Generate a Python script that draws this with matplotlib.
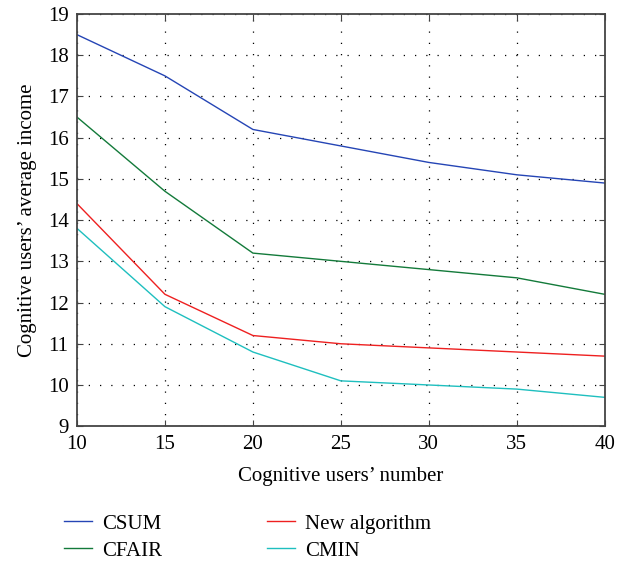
import matplotlib.pyplot as plt

users = [10, 15, 20, 25, 30, 35, 40]
csum = [18.5, 17.5, 16.2, 15.8, 15.4, 15.1, 14.9]
cfair = [16.5, 14.7, 13.2, 13.0, 12.8, 12.6, 12.2]
new_alg = [14.4, 12.2, 11.2, 11.0, 10.9, 10.8, 10.7]
cmin = [13.8, 11.9, 10.8, 10.1, 10.0, 9.9, 9.7]

plt.rcParams["font.family"] = ["Liberation Serif", "DejaVu Serif"]

fig = plt.figure(figsize=(6.26, 5.63), dpi=100)
ax = fig.add_axes([0.123, 0.243, 0.843, 0.732])

ax.plot(users, csum, color="#2545b5", lw=1.0, label="CSUM")
ax.plot(users, cfair, color="#137a3a", lw=1.0, label="CFAIR")
ax.plot(users, new_alg, color="#ee2020", lw=1.0, label="New algorithm")
ax.plot(users, cmin, color="#1ebfbf", lw=1.0, label="CMIN")

ax.set_xlim(10, 40)
ax.set_ylim(9, 19)
ax.set_xticks(range(10, 41, 5))
ax.set_yticks(range(9, 20))
ax.grid(True, color="black", linestyle=(0, (1, 8)), linewidth=0.9)
ax.tick_params(direction="in", top=True, right=True, labelsize=15, length=4,
               color="#444444", pad=6)
for s in ax.spines.values():
    s.set_color("#444444")
    s.set_linewidth(1.3)

ax.set_xlabel("Cognitive users\u2019 number", fontsize=15, labelpad=10)
ax.set_ylabel("Cognitive users\u2019 average income", fontsize=15, labelpad=8)

fig.legend(loc="upper left", bbox_to_anchor=(0.072, 0.12), ncol=2, frameon=False,
           fontsize=15, handlelength=1.35, columnspacing=5.0, labelspacing=0.35,
           handletextpad=0.5)

fig.savefig("out.png", dpi=100)
